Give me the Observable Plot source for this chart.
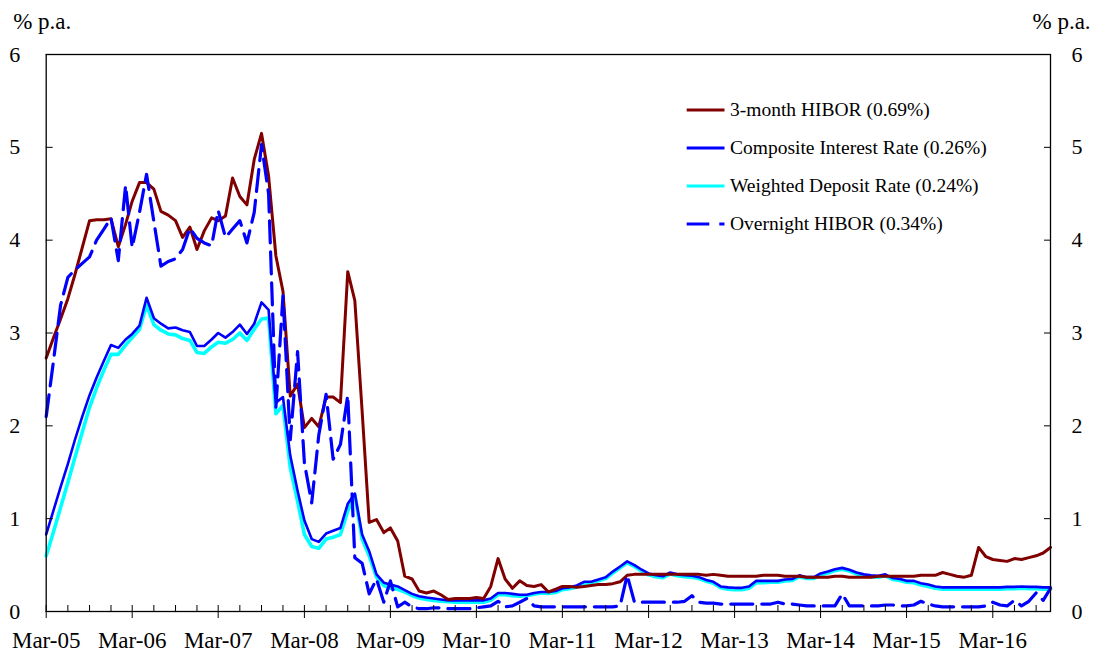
<!DOCTYPE html>
<html><head><meta charset="utf-8">
<script src="https://cdn.jsdelivr.net/npm/d3@7"></script>
<script src="https://cdn.jsdelivr.net/npm/@observablehq/plot@0.6"></script>
<style>
body{margin:0;background:#fff;}
#wrap{position:relative;width:1097px;height:654px;font-family:"Liberation Serif","Times New Roman",serif;}
#legend{position:absolute;left:686px;top:91px;font-size:19.5px;color:#000;}
.row{height:38px;display:flex;align-items:center;white-space:nowrap;}
.row svg{width:44px;height:10px;flex:none;}
</style></head><body><div id="wrap"><div id="legend"></div></div>
<script>
// ---- data (monthly, Mar-05 .. Nov-16) ----
const firstMonth = "Mar-05";
const seriesNames = ["3-month HIBOR (0.69%)", "Composite Interest Rate (0.26%)", "Weighted Deposit Rate (0.24%)", "Overnight HIBOR (0.34%)"];
const seriesColors = ["#800000", "#0000ff", "#00ffff", "#0000ff"];
const yTicks = [0, 1, 2, 3, 4, 5, 6];
const xTickLabels = ["Mar-05","Mar-06","Mar-07","Mar-08","Mar-09","Mar-10","Mar-11","Mar-12","Mar-13","Mar-14","Mar-15","Mar-16"];

const hibor3m = [2.73,2.95,3.15,3.37,3.63,3.92,4.21,4.22,4.22,4.23,3.93,4.17,4.42,4.62,4.62,4.55,4.31,4.27,4.21,4.03,4.14,3.90,4.10,4.24,
4.21,4.26,4.67,4.47,4.38,4.87,5.15,4.69,3.83,3.45,2.32,2.45,
1.98,2.08,1.99,2.31,2.31,2.25,3.66,3.35,2.16,0.96,0.99,0.85,
0.90,0.76,0.38,0.35,0.22,0.20,0.22,0.18,0.13,0.14,0.14,0.14,
0.15,0.14,0.27,0.57,0.35,0.25,0.33,0.28,0.27,0.29,0.21,0.24,
0.27,0.27,0.26,0.27,0.28,0.29,0.29,0.30,0.32,0.39,0.40,0.40,
0.40,0.40,0.40,0.40,0.40,0.40,0.40,0.40,0.39,0.40,0.39,0.38,
0.38,0.38,0.38,0.38,0.39,0.39,0.39,0.38,0.38,0.38,0.37,0.37,
0.37,0.37,0.38,0.38,0.37,0.37,0.37,0.37,0.38,0.38,0.38,0.38,
0.38,0.38,0.39,0.39,0.39,0.42,0.40,0.38,0.37,0.39,0.69,0.59,
0.56,0.55,0.54,0.57,0.56,0.58,0.60,0.63,0.69];

const composite = [0.83,1.09,1.34,1.59,1.85,2.10,2.33,2.52,2.70,2.87,2.84,2.93,
2.99,3.08,3.38,3.16,3.10,3.05,3.06,3.03,3.01,2.86,2.86,2.93,
3.00,2.95,3.01,3.09,2.99,3.10,3.33,3.25,2.25,2.31,1.68,1.30,
0.98,0.78,0.75,0.84,0.87,0.90,1.16,1.27,0.83,0.65,0.40,0.31,
0.29,0.27,0.23,0.19,0.165,0.15,0.14,0.13,0.12,0.12,0.12,0.12,
0.12,0.12,0.14,0.20,0.20,0.19,0.18,0.18,0.20,0.21,0.21,0.22,
0.25,0.26,0.28,0.32,0.32,0.345,0.37,0.43,0.485,0.54,0.50,0.45,
0.41,0.39,0.38,0.42,0.40,0.39,0.385,0.37,0.34,0.32,0.27,0.26,
0.255,0.255,0.27,0.33,0.33,0.33,0.33,0.345,0.35,0.39,0.37,0.37,
0.41,0.43,0.455,0.47,0.45,0.42,0.40,0.39,0.385,0.40,0.36,0.35,
0.33,0.33,0.305,0.29,0.27,0.26,0.26,0.26,0.26,0.26,0.26,0.26,
0.26,0.26,0.265,0.265,0.27,0.265,0.265,0.26,0.26];

const weightedDeposit = [0.60,0.86,1.12,1.39,1.66,1.93,2.20,2.41,2.60,2.77,2.77,2.87,
2.95,3.04,3.30,3.09,3.03,2.99,2.98,2.94,2.92,2.79,2.78,2.85,
2.90,2.89,2.93,3.00,2.92,3.04,3.15,3.16,2.13,2.22,1.55,1.19,
0.83,0.70,0.68,0.78,0.80,0.83,1.08,1.26,0.78,0.60,0.37,0.28,
0.25,0.24,0.21,0.17,0.145,0.13,0.12,0.11,0.105,0.10,0.10,0.10,
0.10,0.10,0.12,0.18,0.18,0.17,0.165,0.17,0.185,0.20,0.195,0.205,
0.235,0.245,0.265,0.305,0.31,0.33,0.355,0.415,0.47,0.525,0.485,0.435,
0.395,0.375,0.365,0.405,0.385,0.375,0.37,0.355,0.325,0.305,0.255,0.24,
0.235,0.235,0.25,0.31,0.31,0.315,0.315,0.33,0.335,0.375,0.355,0.355,
0.395,0.415,0.44,0.455,0.435,0.405,0.385,0.375,0.37,0.385,0.345,0.335,
0.315,0.31,0.285,0.27,0.25,0.24,0.24,0.24,0.24,0.24,0.24,0.24,
0.24,0.24,0.245,0.245,0.25,0.245,0.245,0.24,0.24];

const overnight = [2.10,2.70,3.30,3.60,3.68,3.75,3.82,4.00,4.12,4.24,3.78,4.59,
3.92,4.30,4.71,4.20,3.72,3.77,3.80,3.90,4.13,4.02,3.97,3.94,
4.32,4.03,4.12,4.21,3.97,4.30,5.03,4.50,2.20,3.40,1.85,2.80,
1.60,1.17,1.90,2.34,1.64,1.80,2.33,0.58,0.52,0.19,0.35,0.10,
0.33,0.05,0.10,0.05,0.03,0.03,0.04,0.04,0.03,0.03,0.03,0.03,
0.04,0.05,0.06,0.11,0.05,0.06,0.10,0.14,0.06,0.05,0.05,0.05,
0.05,0.05,0.05,0.05,0.05,0.05,0.05,0.05,0.06,0.39,0.10,0.10,
0.10,0.10,0.10,0.10,0.10,0.11,0.17,0.10,0.09,0.09,0.08,0.08,
0.08,0.08,0.08,0.08,0.08,0.08,0.10,0.08,0.08,0.07,0.06,0.06,
0.06,0.06,0.06,0.19,0.06,0.06,0.06,0.06,0.06,0.07,0.07,0.06,
0.06,0.07,0.11,0.08,0.06,0.05,0.05,0.05,0.05,0.05,0.05,0.06,
0.10,0.07,0.06,0.12,0.06,0.11,0.20,0.12,0.25];

// ---- build ----
const parseLabel = d3.utcParse("%b-%y");
const fmtLabel = d3.utcFormat("%b-%y");
const start = parseLabel(firstMonth);
const months = hibor3m.map((_, i) => d3.utcMonth.offset(start, i));
const end = months[months.length - 1];
const majorDates = xTickLabels.map(parseLabel);
const quarterDates = d3.utcMonth.range(start, d3.utcMonth.offset(end, 1), 3);
const toRows = arr => arr.map((v, i) => ({date: months[i], v}));

const font = '"Liberation Serif","Times New Roman",serif';

const plot = Plot.plot({
  width: 1097, height: 654,
  marginLeft: 45.7, marginRight: 47, marginTop: 54, marginBottom: 43,
  style: {fontFamily: font, fontSize: "22px", background: "#fff", color: "#000", overflow: "visible"},
  x: {type: "utc", domain: [start, end]},
  y: {domain: [0, 6]},
  marks: [
    Plot.line(toRows(weightedDeposit), {x: "date", y: "v", stroke: seriesColors[2], strokeWidth: 3.6}),
    Plot.line(toRows(composite), {x: "date", y: "v", stroke: seriesColors[1], strokeWidth: 2.6}),
    Plot.line(toRows(hibor3m), {x: "date", y: "v", stroke: seriesColors[0], strokeWidth: 3}),
    Plot.line(toRows(overnight), {x: "date", y: "v", stroke: seriesColors[3], strokeWidth: 3.2, strokeDasharray: "22,9"}),
    Plot.frame({stroke: "#000", strokeWidth: 1.3}),
    Plot.axisY(yTicks, {anchor: "left", tickSize: 7, dx: 7, tickPadding: 26, label: null, fontSize: 22, tickFormat: d => String(d)}),
    Plot.axisY(yTicks, {anchor: "right", tickSize: 7, dx: -7, tickPadding: 21, label: null, fontSize: 22, tickFormat: d => String(d)}),
    Plot.axisX(quarterDates, {anchor: "bottom", tickSize: 6, dy: -6, tickFormat: () => "", label: null}),
    Plot.axisX(majorDates, {anchor: "bottom", tickSize: 7, tickPadding: 13, label: null, fontSize: 23, tickFormat: fmtLabel}),
    Plot.text(["% p.a."], {frameAnchor: "top-left", dx: -33, dy: -42, textAnchor: "start", fontSize: 23}),
    Plot.text(["% p.a."], {frameAnchor: "top-right", dx: -18, dy: -42, textAnchor: "start", fontSize: 23})
  ]
});
document.getElementById("wrap").prepend(plot);

// legend
const legend = document.getElementById("legend");
const dashes = [null, null, null, "22.6,10"];
seriesNames.forEach((name, i) => {
  const row = document.createElement("div");
  row.className = "row";
  row.innerHTML = `<svg viewBox="0 0 44 10"><line x1="0.7" x2="38.5" y1="5" y2="5" stroke="${seriesColors[i]}" stroke-width="3"${dashes[i] ? ` stroke-dasharray="${dashes[i]}"` : ""}/></svg><span>${name}</span>`;
  legend.appendChild(row);
});
</script></body></html>
